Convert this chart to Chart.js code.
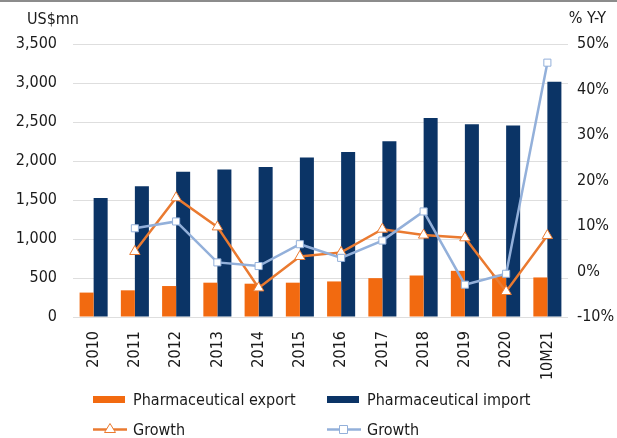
<!DOCTYPE html>
<html>
<head>
<meta charset="utf-8">
<script src="https://cdn.jsdelivr.net/npm/chart.js@4"></script>
<style>
    html, body {
        margin: 0;
        padding: 0;
        background: #fff;
    }
    #wrap {
        position: relative;
        width: 617px;
        height: 438px;
        border-top: 2px solid #8c8c8c;
        box-sizing: border-box;
        font-family: "DejaVu Sans Condensed", "Liberation Sans", sans-serif;
    }
    #chart-box {
        position: absolute;
        left: 0;
        top: -2px;
        width: 617px;
        height: 438px;
    }
    .legend {
        position: absolute;
        font-size: 16px;
        color: #1a1a1a;
        display: flex;
        align-items: center;
        white-space: nowrap;
    }
    .legend canvas {
        margin-right: 4px;
    }
</style>
</head>
<body>
<div id="wrap">
    <div id="chart-box"><canvas id="pharmaChart"></canvas></div>
    <div id="legend"></div>
</div>

<script>
const years = ["2010", "2011", "2012", "2013", "2014", "2015", "2016", "2017", "2018", "2019", "2020", "10M21"];

// US$mn
const exportValues = [313, 342, 397, 440, 427, 440, 456, 498, 532, 592, 540, 507];
const importValues = [1525, 1675, 1863, 1892, 1922, 2044, 2116, 2252, 2551, 2471, 2455, 3016];

// % Y-Y
const exportGrowth = [null, 4.4, 16.2, 9.8, -3.6, 3.3, 4.2, 9.3, 8.0, 7.4, -4.4, 7.9];
const importGrowth = [null, 9.5, 11.0, 2.0, 1.2, 6.0, 3.0, 6.8, 13.2, -2.9, -0.5, 45.9];

const leftTicks = [0, 500, 1000, 1500, 2000, 2500, 3000, 3500];
const rightTicks = [-10, 0, 10, 20, 30, 40, 50];

const ORANGE = "#f26a10";
const NAVY = "#0b3466";
const ORANGE_LINE = "#ea7a30";
const BLUE_LINE = "#93b0da";
const FONT = "'DejaVu Sans Condensed', 'Liberation Sans', sans-serif";

Chart.defaults.font.family = FONT;
Chart.defaults.color = "#1a1a1a";

// unit captions above both value axes
const axisCaptions = {
    id: "axisCaptions",
    afterDraw(chart) {
        const ctx = chart.ctx;
        ctx.save();
        ctx.font = "16px " + FONT;
        ctx.fillStyle = "#1a1a1a";
        ctx.textBaseline = "middle";
        ctx.textAlign = "left";
        ctx.fillText("US$mn", 27, 20);
        ctx.textAlign = "right";
        ctx.fillText("% Y-Y", 606, 19);
        ctx.restore();
    }
};

const datasets = [
    {
        type: "line",
        label: "Growth",
        data: exportGrowth,
        yAxisID: "y1",
        borderColor: ORANGE_LINE,
        borderWidth: 2.5,
        pointStyle: "triangle",
        pointRadius: 6,
        pointBackgroundColor: "#fff",
        pointBorderColor: ORANGE_LINE,
        pointBorderWidth: 1,
        tension: 0,
        order: 1
    },
    {
        type: "line",
        label: "Growth",
        data: importGrowth,
        yAxisID: "y1",
        borderColor: BLUE_LINE,
        borderWidth: 2.5,
        pointStyle: "rect",
        pointRadius: 5,
        pointBackgroundColor: "#fff",
        pointBorderColor: BLUE_LINE,
        pointBorderWidth: 1,
        tension: 0,
        order: 0
    },
    {
        type: "bar",
        label: "Pharmaceutical export",
        data: exportValues,
        yAxisID: "y",
        backgroundColor: ORANGE,
        categoryPercentage: 0.68,
        barPercentage: 1.0,
        order: 2
    },
    {
        type: "bar",
        label: "Pharmaceutical import",
        data: importValues,
        yAxisID: "y",
        backgroundColor: NAVY,
        categoryPercentage: 0.68,
        barPercentage: 1.0,
        order: 3
    }
];

const chart = new Chart(document.getElementById("pharmaChart"), {
    data: {
        labels: years,
        datasets: datasets
    },
    options: {
        responsive: true,
        maintainAspectRatio: false,
        animation: false,
        layout: {
            padding: { top: 44, left: 0, right: 0, bottom: 0 }
        },
        plugins: {
            legend: { display: false },
            tooltip: { enabled: false }
        },
        scales: {
            x: {
                grid: { display: false },
                border: { display: false },
                ticks: {
                    minRotation: 90,
                    maxRotation: 90,
                    padding: 6,
                    font: { size: 16 }
                },
                afterFit(scale) {
                    scale.height = 121;
                }
            },
            y: {
                position: "left",
                min: 0,
                max: 3500,
                border: { display: false },
                grid: { color: "#dedede", lineWidth: 1, drawTicks: false },
                afterBuildTicks(scale) {
                    scale.ticks = leftTicks.map(v => ({ value: v }));
                },
                ticks: {
                    padding: 16,
                    font: { size: 16 },
                    callback: v => v.toLocaleString("en-US")
                },
                afterFit(scale) {
                    scale.width = 73;
                }
            },
            y1: {
                position: "right",
                min: -10,
                max: 50,
                border: { display: false },
                grid: { display: false, drawTicks: false },
                afterBuildTicks(scale) {
                    scale.ticks = rightTicks.map(v => ({ value: v }));
                },
                ticks: {
                    padding: 9,
                    font: { size: 16 },
                    callback: v => v + "%"
                },
                afterFit(scale) {
                    scale.width = 49;
                }
            }
        }
    },
    plugins: [axisCaptions]
});

// two-column legend under the chart
function buildLegend() {
    const holder = document.getElementById("legend");
    const spots = [
        { ds: 2, left: 93, top: 386 },
        { ds: 3, left: 327, top: 386 },
        { ds: 0, left: 93, top: 416 },
        { ds: 1, left: 327, top: 416 }
    ];
    spots.forEach(spot => {
        const ds = datasets[spot.ds];
        const item = document.createElement("div");
        item.className = "legend";
        item.style.left = spot.left + "px";
        item.style.top = spot.top + "px";

        const swatch = document.createElement("canvas");
        swatch.width = 36;
        swatch.height = 22;
        const c = swatch.getContext("2d");
        if (ds.type === "bar") {
            c.fillStyle = ds.backgroundColor;
            c.fillRect(0, 8, 32, 7);
        } else {
            c.strokeStyle = ds.borderColor;
            c.lineWidth = 2.5;
            c.beginPath();
            c.moveTo(0, 11.5);
            c.lineTo(34, 11.5);
            c.stroke();
            c.fillStyle = "#fff";
            c.lineWidth = 1;
            c.beginPath();
            if (ds.pointStyle === "triangle") {
                c.moveTo(17, 5.5);
                c.lineTo(22.5, 14.5);
                c.lineTo(11.5, 14.5);
                c.closePath();
            } else {
                c.rect(12.5, 7.5, 8, 8);
            }
            c.fill();
            c.stroke();
        }
        item.appendChild(swatch);

        const text = document.createElement("span");
        text.textContent = ds.label;
        item.appendChild(text);
        holder.appendChild(item);
    });
}

buildLegend();
</script>
</body>
</html>
